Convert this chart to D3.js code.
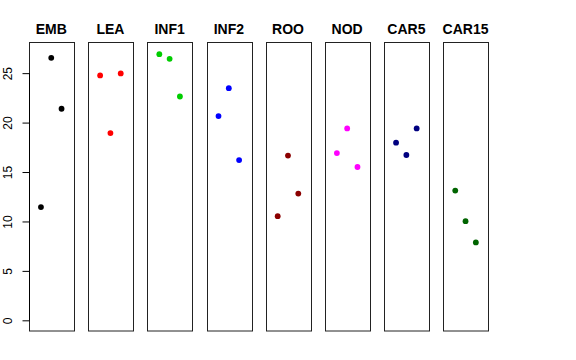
<!DOCTYPE html>
<html><head><meta charset="utf-8">
<script src="https://cdn.jsdelivr.net/npm/d3@7"></script>
<style>body{margin:0;background:#fff}svg{display:block}text{font-family:"Liberation Sans",Arial,sans-serif}</style>
</head><body>
<script>
const categories = ["EMB","LEA","INF1","INF2","ROO","NOD","CAR5","CAR15"];
const colors = ["#000000","#FF0000","#00CD00","#0000FF","#8B0000","#FF00FF","#000080","#006400"];
const emb = [11.45, 26.55, 21.4];
const lea = [24.77, 18.94, 24.97];
const inf1 = [26.92, 26.45, 22.64];
const inf2 = [20.66, 23.48, 16.21];
const roo = [10.53, 16.66, 12.82];
const nod = [16.92, 19.41, 15.51];
const car5 = [17.97, 16.72, 19.41];
const car15 = [13.12, 10.03, 7.88];
const series = [emb, lea, inf1, inf2, roo, nod, car5, car15];
const yTicks = [0, 5, 10, 15, 20, 25];

const W = 576, H = 360;
const svg = d3.select("body").append("svg").attr("width", W).attr("height", H);

const yMin = 0, yMax = 27, pad = (yMax - yMin) * 0.04;
const y = d3.scaleLinear().domain([yMin - pad, yMax + pad]).range([331, 42.7]);
const panelLeft = d3.scaleLinear().domain([0, 7]).range([29, 443.3]);
const panelW = 44.5;

categories.forEach((cat, i) => {
  const x0 = panelLeft(i);
  const x = d3.scaleLinear().domain([-0.16, 4.16]).range([x0, x0 + panelW]);
  const g = svg.append("g");
  g.append("rect").attr("x", Math.round(x0) + 0.5).attr("y", 42.5)
    .attr("width", Math.round(panelW)).attr("height", 288.5)
    .attr("fill", "none").attr("stroke", "#222").attr("stroke-width", 1);
  g.selectAll("circle").data(series[i]).join("circle")
    .attr("cx", (d, j) => x(j + 1)).attr("cy", d => y(d)).attr("r", 2.9)
    .attr("fill", colors[i]);
  g.append("text").attr("x", x0 + panelW / 2).attr("y", 34)
    .attr("text-anchor", "middle").attr("font-weight", "bold").attr("font-size", 14)
    .text(cat);
  if (i === 0) {
    const axis = d3.axisLeft(y).tickValues(yTicks).tickSize(7).tickSizeOuter(0).tickPadding(6);
    const ag = svg.append("g").attr("transform", `translate(${Math.round(x0) + 0.5},0)`).call(axis);
    ag.select(".domain").remove();
    ag.append("line").attr("x1", 0).attr("x2", 0).attr("y1", y(0)).attr("y2", y(25)).attr("stroke", "#000");
    ag.selectAll(".tick line").attr("stroke", "#000");
    ag.selectAll(".tick text").attr("font-size", 12).attr("fill", "#000")
      .attr("font-family", "Liberation Sans, Arial, sans-serif")
      .attr("transform", "rotate(-90, -18, 0)")
      .attr("x", -18).attr("dy", null).attr("y", 0)
      .attr("text-anchor", "middle").attr("dominant-baseline", "auto");
  }
});
</script>
</body></html>
